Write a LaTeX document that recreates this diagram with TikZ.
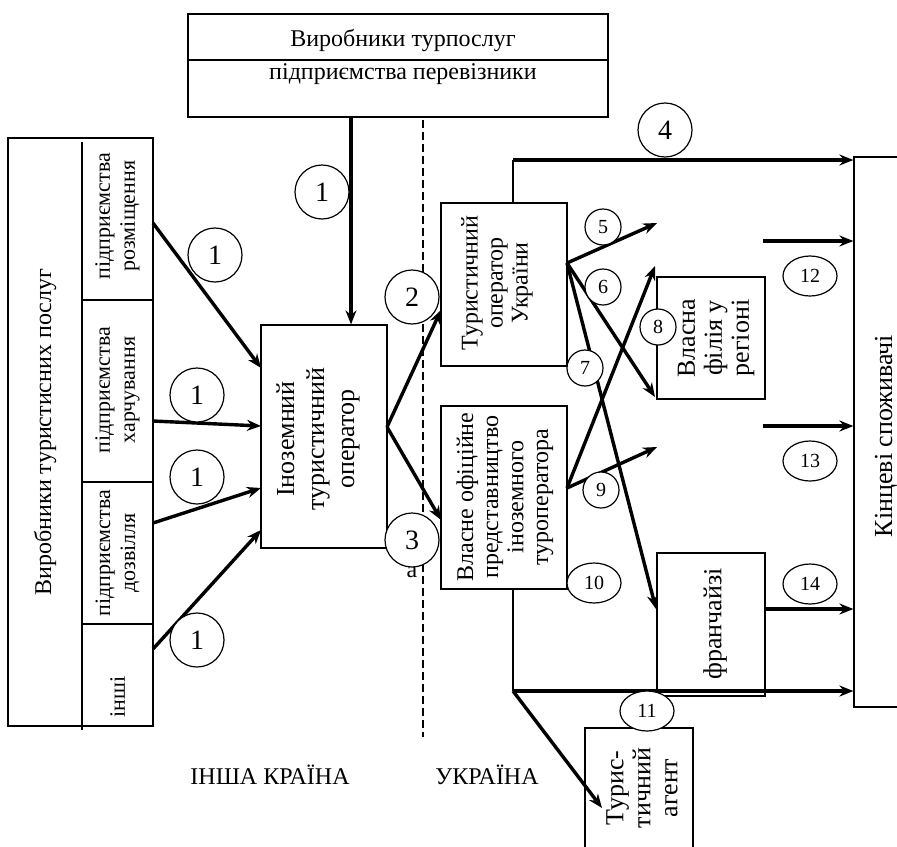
\documentclass[tikz,border=0pt]{standalone}
\usepackage{fontspec}
\setmainfont{Liberation Serif}
\usetikzlibrary{arrows.meta,shapes.geometric}

\begin{document}
\begin{tikzpicture}[x=0.5pt,y=-0.5pt,
  box/.style={draw, line width=0.6pt, inner sep=0pt},
  thinl/.style={line width=0.6pt},
  arr/.style={line width=1.7pt, -{Stealth[length=7pt,width=5.5pt]}},
  vtxt/.style={rotate=90, align=center, inner sep=0pt, font=\fontsize{12}{12.5}\selectfont},
  htxt/.style={inner sep=0pt, font=\fontsize{12}{12}\selectfont},
  bignum/.style={circle, draw, fill=white, line width=0.6pt, inner sep=0pt, minimum size=27pt, font=\fontsize{14}{14}\selectfont},
  smallnum/.style={circle, draw, fill=white, line width=0.6pt, inner sep=0pt, minimum size=18pt, font=\fontsize{10}{10}\selectfont},
  ovalnum/.style={ellipse, draw, fill=white, line width=0.6pt, inner sep=0pt, minimum width=27pt, minimum height=20pt, font=\fontsize{10}{10}\selectfont}]
\useasboundingbox (0,0) rectangle (897,846);

\node[box, minimum width=210pt, minimum height=51.5pt] (prod) at (398,65.5) {};
\draw[thinl] (prod.west |- 0,60) -- (prod.east |- 0,60);
\node[htxt] (prodt) at (403,40) {Виробники турпослуг};
\node[htxt] (perev) at (403,74) {підприємства перевізники};

\node[box, minimum width=72.5pt, minimum height=294pt] (vyr) at (80.5,432) {};
\draw[thinl] (82,142) -- (82,730);
\draw[thinl] (82,300) -- (vyr.east |- 0,300);
\draw[thinl] (82,482) -- (vyr.east |- 0,482);
\draw[thinl] (82,624) -- (vyr.east |- 0,624);
\node[vtxt] (vyrt) at (45,432) {Виробники туристисних послуг};
\node[vtxt, font=\fontsize{11}{12.5}\selectfont] (rozm) at (117.5,216) {підприємства\\розміщення};
\node[vtxt, font=\fontsize{11}{12.5}\selectfont] (harch) at (117.5,390) {підприємства\\харчування};
\node[vtxt, font=\fontsize{11}{12.5}\selectfont] (dozv) at (117.5,553) {підприємства\\дозвілля};
\node[vtxt, font=\fontsize{11}{12.5}\selectfont] (inshi) at (117.5,697) {інші};

\node[box, minimum width=63pt, minimum height=111.5pt] (ino) at (324,436.5) {};
\node[vtxt, font=\fontsize{13}{15}\selectfont] (inot) at (318,439) {Іноземний\\туристичний\\оператор};

\node[box, minimum width=63pt, minimum height=81.5pt] (touk) at (504,284.5) {};
\node[vtxt] (toukt) at (497,283) {Туристичний\\оператор\\України};

\node[box, minimum width=63pt, minimum height=91.5pt] (vlas) at (504,497.5) {};
\node[vtxt] (vlast) at (505,497) {Власне офіційне\\представництво\\іноземного\\туроператора};

\node[box, minimum width=54pt, minimum height=61pt] (filia) at (711,338) {};
\node[vtxt, font=\fontsize{13}{13.5}\selectfont] (filiat) at (716,338) {Власна\\філія у\\регіоні};

\node[box, minimum width=54pt, minimum height=71.5pt] (franch) at (711,624.5) {};
\node[vtxt, font=\fontsize{13}{13}\selectfont] (francht) at (715,624) {франчайзі};

\node[box, minimum width=30pt, minimum height=275pt] (kinc) at (884,432) {};
\node[vtxt, font=\fontsize{13}{13}\selectfont] (kinct) at (886,436) {Кінцеві споживачі};

\node[box, minimum width=54pt, minimum height=70pt] (agent) at (639,798) {};
\node[vtxt, font=\fontsize{13}{13.5}\selectfont] (agentt) at (642,788) {Турис-\\тичний\\агент};

\node[htxt] (insha) at (270,775) {ІНША КРАЇНА};
\node[htxt] (ukr) at (487,775) {УКРАЇНА};
\node[htxt] (alab) at (412,572) {а};

\coordinate (bordt) at (423,120);
\coordinate (bordb) at (423,737);
\draw[dashed, line width=0.8pt, dash pattern=on 4pt off 2pt] (bordt) -- (bordb);

\coordinate (s0) at (351,117);
\draw[arr] (s0) -- (s0 |- ino.north);
\coordinate (s1) at (153,223);
\coordinate (e1) at (261,368);
\draw[arr] (s1) -- (e1);
\coordinate (s2) at (153,421);
\coordinate (e2) at (261,426);
\draw[arr] (s2) -- (e2);
\coordinate (s3) at (153,523);
\coordinate (e3) at (261,488);
\draw[arr] (s3) -- (e3);
\coordinate (s4) at (153,649);
\coordinate (e4) at (261,530);
\draw[arr] (s4) -- (e4);

\coordinate (io) at (387,427);
\coordinate (t2) at (441,310);
\coordinate (t3) at (441,520);
\draw[arr] (io) -- (t2);
\draw[arr] (io) -- (t3);

\coordinate (t4) at (513,203);
\coordinate (k4) at (513,160);
\draw[thinl] (t4) -- (k4);
\draw[arr] (k4) -- (k4 -| kinc.west);

\coordinate (tu) at (567,263);
\coordinate (f5) at (657,223);
\coordinate (f6) at (655,397);
\coordinate (f7) at (656,609);
\draw[arr] (tu) -- (f5);
\draw[arr] (tu) -- (f6);
\draw[arr] (tu) -- (f7);

\coordinate (vo) at (567,488);
\coordinate (f8) at (655,266);
\coordinate (f9) at (657,447);
\draw[arr] (vo) -- (f8);
\draw[arr] (vo) -- (f9);

\coordinate (v10) at (513,589);
\coordinate (k11) at (513,691);
\coordinate (ag) at (602,808);
\draw[thinl] (v10) -- (k11);
\draw[arr] (k11) -- (k11 -| kinc.west);
\draw[arr] (k11) -- (ag);

\coordinate (s12) at (763,241);
\coordinate (s13) at (763,426);
\coordinate (s14) at (765,609);
\draw[arr] (s12) -- (s12 -| kinc.west);
\draw[arr] (s13) -- (s13 -| kinc.west);
\draw[arr] (s14) -- (s14 -| kinc.west);

\node[bignum] (c1a) at (322,192) {1};
\node[bignum] (c1b) at (215,255) {1};
\node[bignum] (c1c) at (197,395) {1};
\node[bignum] (c1d) at (197,477) {1};
\node[bignum] (c1e) at (197,640) {1};
\node[bignum] (c2) at (412,297) {2};
\node[bignum] (c3) at (412,540) {3};
\node[bignum] (c4) at (665,130) {4};
\node[smallnum] (c5) at (603,227) {5};
\node[smallnum] (c6) at (603,287) {6};
\node[smallnum] (c7) at (585,368) {7};
\node[smallnum] (c8) at (658,327) {8};
\node[smallnum] (c9) at (601,490) {9};
\node[ovalnum] (c10) at (594,583) {10};
\node[ovalnum] (c11) at (647,711) {11};
\node[ovalnum] (c12) at (810,276) {12};
\node[ovalnum] (c13) at (810,461) {13};
\node[ovalnum] (c14) at (810,584) {14};
\end{tikzpicture}
\end{document}
